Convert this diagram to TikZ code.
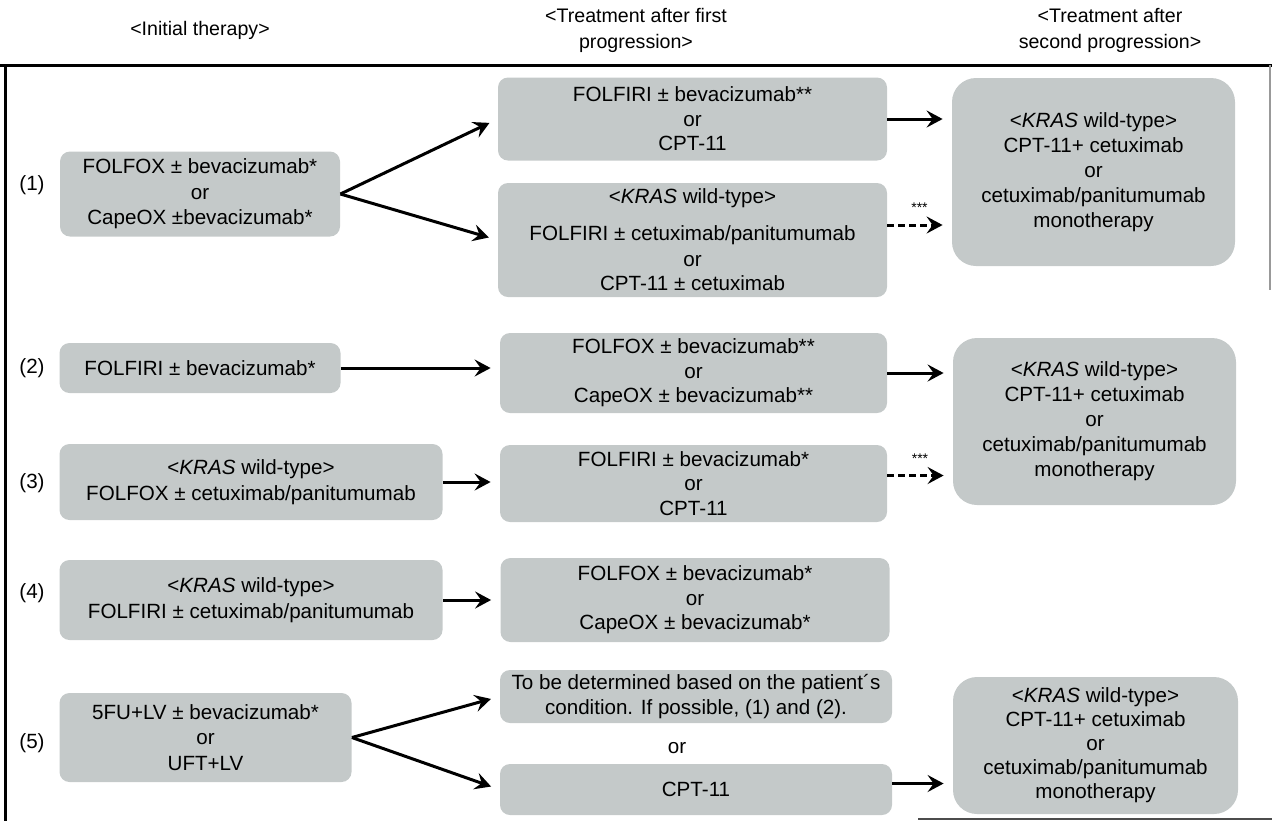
\documentclass[tikz,border=0pt]{standalone}
\usepackage{fontspec}
\setmainfont{Liberation Sans}
\usetikzlibrary{arrows.meta}
\definecolor{boxgray}{RGB}{196,201,201}
\tikzset{
  box/.style={fill=boxgray, rounded corners=5pt, align=center, inner sep=0pt, font=\fontsize{10.3}{12.2}\selectfont},
  abox/.style={box, font=\fontsize{10.3}{12.8}\selectfont},
  bigbox/.style={box, rounded corners=12pt, font=\fontsize{10.3}{12.5}\selectfont},
  conn/.style={line width=1.5pt, -{Stealth[length=8pt,width=8.5pt,inset=3pt]}, shorten >=4.5pt},
  dconn/.style={conn, dash pattern=on 3.5pt off 2pt},
  rowlab/.style={font=\fontsize{10.3}{12}\selectfont},
  hdr/.style={align=center, font=\fontsize{9.8}{13}\selectfont},
  stars/.style={font=\fontsize{7}{8}\selectfont},
  plain/.style={font=\fontsize{10.3}{12}\selectfont},
  frame/.style={line width=1.5pt}
}
\begin{document}
\begin{tikzpicture}[x=0.5pt,y=-0.5pt]
\useasboundingbox (0,0) rectangle (1272,821);
% frame
\draw[frame] (0,65) -- (1272,65);
\draw[frame] (5,65) -- (5,821);
\draw[line width=1.2pt, black!70] (918,819) -- (1272,819);
\draw[line width=0.6pt, black!40] (1270,65) -- (1270,290);
% headers
\node[hdr] (H1) at (200,30) {<Initial therapy>};
\node[hdr] (H2) at (636,30) {<Treatment after first\\progression>};
\node[hdr] (H3) at (1110,30) {<Treatment after\\second progression>};
% row labels
\node[rowlab] (L1) at (32,185) {(1)};
\node[rowlab] (L2) at (32,368) {(2)};
\node[rowlab] (L3) at (32,483) {(3)};
\node[rowlab] (L4) at (32,593) {(4)};
\node[rowlab] (L5) at (32,743) {(5)};
% row 1
\node[abox, minimum width=140pt, minimum height=42.5pt] (A1) at (200,194)
  {FOLFOX ± bevacizumab*\\or\\CapeOX ±bevacizumab*};
\node[box, minimum width=194.5pt, minimum height=41.5pt] (B1a) at (692.5,119)
  {FOLFIRI ± bevacizumab**\\or\\CPT-11};
\node[box, minimum width=194.5pt, minimum height=57pt] (B1b) at (692.5,240)
  {<\textit{KRAS} wild-type>\\[6pt]FOLFIRI ± cetuximab/panitumumab\\[1pt]or\\CPT-11 ± cetuximab};
\node[bigbox, minimum width=141.5pt, minimum height=94pt] (C1) at (1093.5,172)
  {<\textit{KRAS} wild-type>\\CPT-11+ cetuximab\\or\\cetuximab/panitumumab\\monotherapy};
% row 2
\node[abox, minimum width=140.5pt, minimum height=25pt] (A2) at (200,368)
  {FOLFIRI ± bevacizumab*};
\node[box, minimum width=193.5pt, minimum height=40pt] (B2) at (693.5,373)
  {FOLFOX ± bevacizumab**\\or\\CapeOX ± bevacizumab**};
\node[bigbox, minimum width=141.5pt, minimum height=83.5pt] (C2) at (1094.5,421.5)
  {<\textit{KRAS} wild-type>\\CPT-11+ cetuximab\\or\\cetuximab/panitumumab\\monotherapy};
% row 3
\node[abox, minimum width=191.5pt, minimum height=38pt] (A3) at (251,482)
  {<\textit{KRAS} wild-type>\\FOLFOX ± cetuximab/panitumumab};
\node[box, minimum width=193.5pt, minimum height=38.5pt] (B3) at (693.5,483.5)
  {FOLFIRI ± bevacizumab*\\or\\CPT-11};
% row 4
\node[abox, minimum width=191.5pt, minimum height=40pt] (A4) at (251,600)
  {<\textit{KRAS} wild-type>\\FOLFIRI ± cetuximab/panitumumab};
\node[box, minimum width=194.5pt, minimum height=42pt] (B4) at (695,600)
  {FOLFOX ± bevacizumab*\\or\\CapeOX ± bevacizumab*};
% row 5
\node[abox, minimum width=146pt, minimum height=44.5pt] (A5) at (205.5,737.5)
  {5FU+LV ± bevacizumab*\\or\\UFT+LV};
\node[box, minimum width=196pt, minimum height=26.5pt] (B5a) at (696,696.5)
  {To be determined based on the patient´s\\condition. If possible, (1) and (2).};
\node[plain] (or5) at (677,748) {or};
\node[box, minimum width=196pt, minimum height=25.5pt] (B5b) at (696,789.5)
  {CPT-11};
\node[bigbox, minimum width=142.5pt, minimum height=68.5pt, font=\fontsize{10.3}{12}\selectfont] (C5) at (1095.5,745.5)
  {<\textit{KRAS} wild-type>\\CPT-11+ cetuximab\\or\\cetuximab/panitumumab\\monotherapy};
% connectors
\draw[conn] (A1.east) -- (B1a.west);
\draw[conn] (A1.east) -- (B1b.west);
\draw[conn] (B1a.east) -- (B1a.east -| C1.west);
\coordinate (d1) at ([yshift=7.5pt]B1b.east);
\draw[dconn] (d1) -- (d1 -| C1.west) node[stars, midway, above=2pt] {***};
\draw[conn] (A2.east) -- (A2.east -| B2.west);
\draw[conn] (B2.east) -- (B2.east -| C2.west);
\draw[conn] (A3.east) -- (A3.east -| B3.west);
\coordinate (d3) at ([yshift=4pt]B3.east);
\draw[dconn] (d3) -- (d3 -| C2.west) node[stars, midway, above=2pt] {***};
\draw[conn] (A4.east) -- (A4.east -| B4.west);
\draw[conn] (A5.east) -- (B5a.west);
\draw[conn] (A5.east) -- (B5b.west);
\coordinate (d5) at ([yshift=3pt]B5b.east);
\draw[conn] (d5) -- (d5 -| C5.west);
\end{tikzpicture}
\end{document}
